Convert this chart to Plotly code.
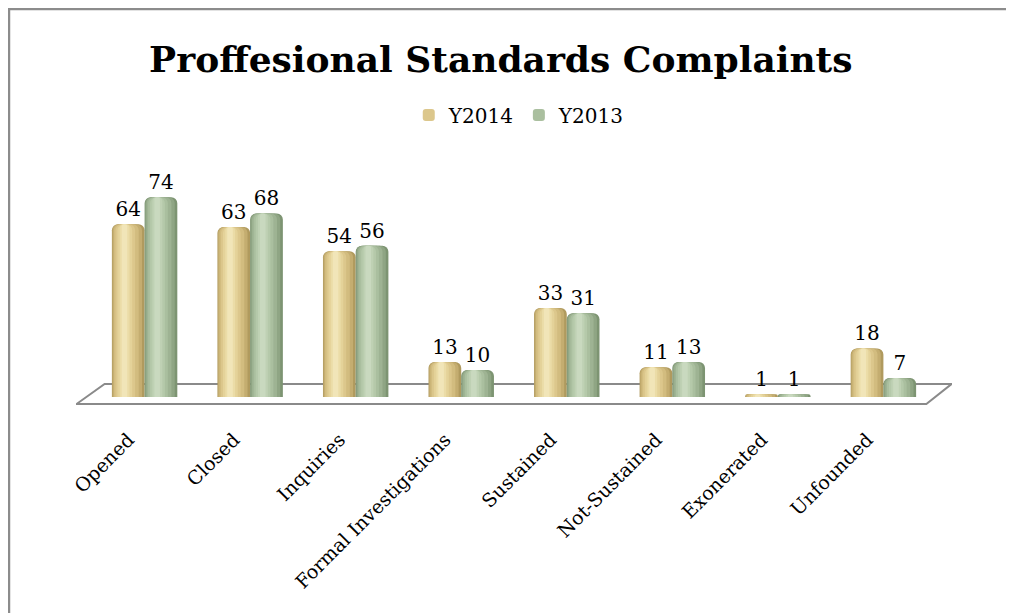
import plotly.graph_objects as go

categories = ["Opened", "Closed", "Inquiries", "Formal Investigations",
              "Sustained", "Not-Sustained", "Exonerated", "Unfounded"]
y2014 = [64, 63, 54, 13, 33, 11, 1, 18]
y2013 = [74, 68, 56, 10, 31, 13, 1, 7]
series_names = ["Y2014", "Y2013"]

FONT = "DejaVu Serif"
W = 0.31  # width of one bar in category units

# shading layers for a cylinder look: (relative offset, relative width)
layers = [(0.0, 1.0), (0.02, 0.9), (0.06, 0.76), (0.11, 0.6),
          (0.17, 0.45), (0.24, 0.30), (0.30, 0.17)]
gold = ["#B09A5E", "#C4AD70", "#D2BC7F", "#DCC78C", "#E4D299", "#EBDCA7", "#F1E5B8"]
green = ["#7D9472", "#8FA584", "#9EB393", "#AABF9F", "#B5C9AA", "#BFD1B4", "#C9D9BF"]

fig = go.Figure()
for s, (name, vals, cols) in enumerate([(series_names[0], y2014, gold),
                                        (series_names[1], y2013, green)]):
    base_off = -W + s * W
    for li, (ro, rw) in enumerate(layers):
        fig.add_trace(go.Bar(
            x=categories, y=vals, name=name,
            offset=base_off + ro * W, width=rw * W,
            marker=dict(color=cols[li], line=dict(width=0)),
            text=[str(v) for v in vals] if li == 0 else None,
            textposition="outside" if li == 0 else "none",
            textfont=dict(family=FONT, size=20, color="#000000"),
            cliponaxis=False,
            showlegend=(li == 3),
            legendgroup=name,
            hoverinfo="skip",
        ))

shapes = [
    # floor parallelogram
    dict(type="path", xref="x", yref="y", layer="below",
         path="M -0.645,-2.6 L -0.379,4.8 L 7.645,4.8 L 7.407,-2.6 Z",
         fillcolor="white", line=dict(color="#8a8a8a", width=2)),
    # chart frame (left and top)
    dict(type="path", xref="paper", yref="paper", layer="above",
         path="M -0.0765,-0.75 L -0.0765,1.515 L 1.1,1.515",
         line=dict(color="#8c8c8c", width=2.5)),
]

fig.update_layout(
    width=1014, height=613,
    margin=dict(l=68, r=70, t=142, b=197),
    paper_bgcolor="white", plot_bgcolor="white",
    barmode="overlay",
    barcornerradius=6,
    title=dict(text="<b>Proffesional Standards Complaints</b>",
               font=dict(family=FONT, size=36, color="#000000"),
               x=0.486, xanchor="center", y=1 - 51 / 613, yanchor="middle",
               xref="container", yref="container"),
    legend=dict(orientation="h", x=0.506, xanchor="center", y=1.128, yanchor="middle",
                font=dict(family=FONT, size=20, color="#000000"),
                itemclick=False, traceorder="normal", bgcolor="rgba(0,0,0,0)"),
    xaxis=dict(type="category", range=[-0.65, 7.65], showgrid=False, zeroline=False,
               showline=False, ticks="", tickangle=-45, ticklabelshift=-16,
               tickfont=dict(family=FONT, size=19, color="#000000")),
    yaxis=dict(range=[-10, 91.5], visible=False, showgrid=False, zeroline=False),
    shapes=shapes,
    showlegend=True,
)

fig.write_html("out.html")
